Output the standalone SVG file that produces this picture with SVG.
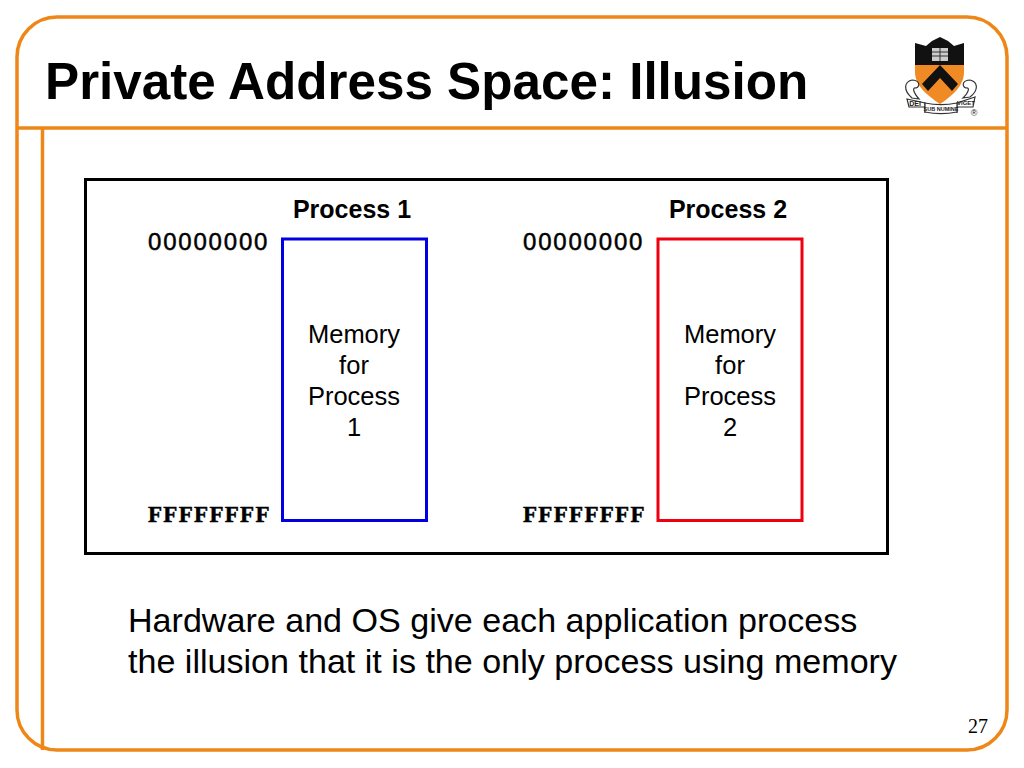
<svg xmlns="http://www.w3.org/2000/svg" width="1024" height="768" viewBox="0 0 1024 768">
<style>
.o{fill:none;stroke:#ee8618;stroke-width:3.5}
.s{font-family:"Liberation Sans",Arial,sans-serif;fill:#000}
.t{font-size:51.200px;font-weight:700}
.h{font-size:25px;font-weight:700;text-anchor:middle}
.m{font-size:25.500px;text-anchor:middle}
.b{font-size:34.100px}
.a{font-family:"Liberation Sans",Arial,sans-serif;font-size:24px;fill:#000;stroke:#000;stroke-width:.5;letter-spacing:1.800px}
.f{font-family:"Liberation Serif","Times New Roman",serif;font-weight:700;font-size:23px;letter-spacing:1.300px;stroke:#000;stroke-width:.5}
.l{fill:#fff;stroke:#333;stroke-width:1.200}
.x{font-family:"Liberation Sans",Arial,sans-serif;font-size:7px;font-weight:700;fill:#222;text-anchor:middle}
</style>
<rect width="1024" height="768" fill="#fff"/>
<g id="frame">
<rect class="o" x="17" y="17" width="990" height="733" rx="40" ry="40"/>
<path class="o" d="M17 128H1007M42.500 128V750"/>
</g>
<text id="title" class="s t" x="45" y="99">Private Address Space: Illusion</text>
<g id="logo">
<path d="M915 43L926 46L932 41L940 37L948 41L954 46L964 43V65H915Z" fill="#111"/>
<path d="M915 65H964V72C964 86 952 96 940 104C928 96 915 86 915 72Z" fill="#f08a24"/>
<path d="M922 84L940 65L958 84L952 91L940 78L928 91Z" fill="#111"/>
<rect x="932" y="48" width="16" height="13" fill="#ccc"/>
<path d="M940 48V61M932 52H948M932 56H948" stroke="#333" stroke-width="1"/>
<path class="l" d="M907 99L925 103V113L926 107L909 107Z"/>
<path class="l" d="M975 97L957 103V113L956 107L973 107Z"/>
<path class="l" d="M925 103C935 105 947 105 957 103V112C947 114 935 114 925 112Z"/>
<path class="l" d="M912 98C903 90 904 82 912 80C919 80 921 86 916 88C912 87 913 92 919 99Z"/>
<path class="l" d="M970 97C979 90 978 82 970 80C963 80 961 86 966 88C970 87 969 92 963 98Z"/>
<text class="x" x="915" y="106">DEI</text>
<text class="x" x="941" y="111" style="font-size:5.500px">SUB NUMINE</text>
<text class="x" x="966" y="105" style="font-size:6px">VIGET</text>
<text class="x" x="974" y="116" style="font-size:9px;font-weight:400">®</text>
</g>
<rect id="panel" x="85.500" y="179.500" width="802" height="374" fill="#fff" stroke="#000" stroke-width="3"/>
<g id="process1">
<text class="s h" x="352" y="217.500">Process 1</text>
<text class="a" x="148" y="250">00000000</text>
<text class="f" x="148" y="522">FFFFFFFF</text>
<rect x="282.500" y="239" width="144" height="281.500" fill="#fff" stroke="#0000e0" stroke-width="3"/>
<text class="s m" x="354" y="343">Memory</text>
<text class="s m" x="354" y="374">for</text>
<text class="s m" x="354" y="405">Process</text>
<text class="s m" x="354" y="436">1</text>
</g>
<g id="process2">
<text class="s h" x="728" y="217.500">Process 2</text>
<text class="a" x="523" y="250">00000000</text>
<text class="f" x="523" y="522">FFFFFFFF</text>
<rect x="658" y="239" width="144" height="281.500" fill="#fff" stroke="#ee0010" stroke-width="3"/>
<text class="s m" x="730" y="343">Memory</text>
<text class="s m" x="730" y="374">for</text>
<text class="s m" x="730" y="405">Process</text>
<text class="s m" x="730" y="436">2</text>
</g>
<text class="s b" x="128" y="632">Hardware and OS give each application process</text>
<text class="s b" x="128" y="673">the illusion that it is the only process using memory</text>
<text x="978" y="733" font-family="Liberation Serif,serif" font-size="20" text-anchor="middle">27</text>
</svg>
